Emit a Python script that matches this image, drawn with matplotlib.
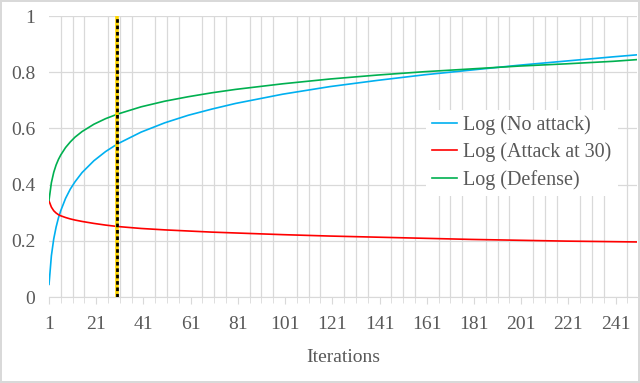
import matplotlib.pyplot as plt
import numpy as np

iterations = [1, 2, 3, 4, 5, 6, 8, 10, 12, 15, 20, 25, 30, 40, 50, 60, 70, 80,
              100, 120, 140, 160, 180, 200, 220, 240, 250]
no_attack = [0.045, 0.147, 0.207, 0.249, 0.282, 0.308, 0.351, 0.384, 0.410, 0.443,
             0.485, 0.518, 0.545, 0.587, 0.620, 0.647, 0.669, 0.689, 0.722, 0.749,
             0.771, 0.791, 0.808, 0.825, 0.840, 0.855, 0.862]
attack_30 = [0.342, 0.320, 0.307, 0.299, 0.293, 0.289, 0.283, 0.278, 0.274, 0.269,
             0.262, 0.256, 0.251, 0.244, 0.239, 0.235, 0.231, 0.228, 0.222, 0.217,
             0.213, 0.209, 0.205, 0.202, 0.199, 0.197, 0.196]
defense = [0.345, 0.407, 0.444, 0.470, 0.490, 0.506, 0.532, 0.552, 0.569, 0.589,
           0.615, 0.635, 0.651, 0.677, 0.697, 0.713, 0.727, 0.739, 0.759, 0.776,
           0.790, 0.802, 0.812, 0.822, 0.830, 0.839, 0.845]
attack_at = 30
xtick_labels = list(range(1, 250, 20))
labels = ["Log (No attack)", "Log (Attack at 30)", "Log (Defense)"]
colors = ["#00B0F0", "#FF0000", "#00B050"]

plt.rcParams["font.family"] = ["Liberation Serif", "DejaVu Serif"]

fig = plt.figure(figsize=(6.4, 3.83), dpi=100)
fig.patch.set_edgecolor("#D9D9D9")
fig.patch.set_linewidth(1.5)
ax = fig.add_axes([0.0766, 0.2245, 0.9184, 0.7335])

for ys, lab, col in zip([no_attack, attack_30, defense], labels, colors):
    ax.plot(iterations, ys, color=col, lw=1.2, label=lab, zorder=3)

ax.axvline(attack_at, color="#FFD700", lw=2.6, zorder=4)
ax.axvline(attack_at, color="black", lw=2.0, linestyle=(0, (1.3, 1.0)), zorder=5)

ax.set_xlim(1, 250)
ax.set_ylim(0, 1)
ax.set_yticks(np.arange(0, 1.01, 0.2))
ax.set_yticklabels(["0", "0.2", "0.4", "0.6", "0.8", "1"])
ax.set_xticks(xtick_labels)
ax.set_xticks(np.arange(1, 251, 5), minor=True)

ax.grid(True, which="minor", axis="x", color="#D9D9D9", lw=0.9)
ax.grid(True, which="major", axis="y", color="#D9D9D9", lw=0.9)
ax.set_axisbelow(True)

for s in ["top", "right", "left"]:
    ax.spines[s].set_visible(False)
ax.spines["bottom"].set_color("#D9D9D9")
ax.tick_params(axis="y", length=0, pad=10, labelsize=14, labelcolor="#595959")
ax.tick_params(axis="x", which="major", length=5, color="#D9D9D9", pad=9,
               labelsize=14, labelcolor="#595959")
ax.tick_params(axis="x", which="minor", length=4, color="#D9D9D9")

ax.set_xlabel("Iterations", fontsize=14, color="#595959", labelpad=11)

leg = ax.legend(loc="upper left", bbox_to_anchor=(0.666, 0.714),
                bbox_transform=fig.transFigure, fontsize=14.5, frameon=True,
                fancybox=False, handlelength=1.24, handletextpad=0.3,
                labelspacing=0.37, borderpad=0.3, borderaxespad=0)
leg.get_frame().set_edgecolor("none")
leg.get_frame().set_facecolor("white")
leg.get_frame().set_alpha(1)
for t in leg.get_texts():
    t.set_color("#595959")

fig.savefig("out.png", dpi=100, edgecolor=fig.get_edgecolor())
